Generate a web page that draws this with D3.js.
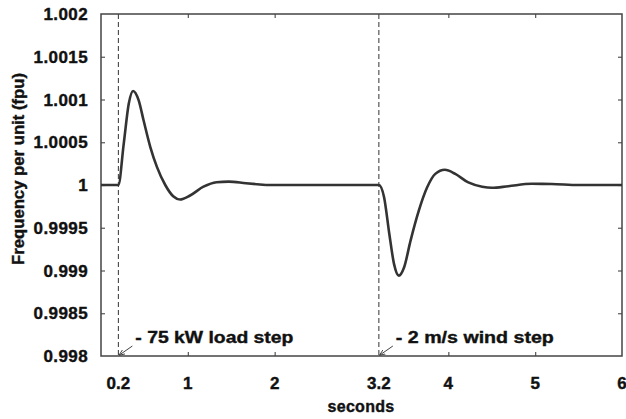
<!DOCTYPE html>
<html>
<head>
<meta charset="utf-8">
<script src="https://cdn.jsdelivr.net/npm/d3@7"></script>
<style>
  body { margin: 0; background: #fff; }
  text { font-family: "Liberation Sans", Arial, sans-serif; font-weight: bold; fill: #111; stroke: #111; stroke-width: 0.4px; }
</style>
</head>
<body>
<div id="chart"></div>
<script>
// Frequency response (time in seconds, frequency in per unit)
const loadStepTime = [0, 0.2, 0.262, 0.32, 0.37, 0.434, 0.49, 0.568, 0.645, 0.74, 0.835, 0.91, 1.026, 1.18, 1.33, 1.47, 1.67, 1.9];
const loadStepFreq = [1, 1, 1.000484, 1.000953, 1.0011, 1.00099, 1.000757, 1.000444, 1.000209, 1.0, 0.999865, 0.99983, 0.999877, 0.99998, 1.000033, 1.00004, 1.00002, 1.0];
const windStepTime = [1.9, 3.2, 3.26, 3.32, 3.375, 3.43, 3.49, 3.565, 3.66, 3.755, 3.85, 3.96, 4.08, 4.23, 4.39, 4.5, 4.69, 4.96, 5.19, 5.5, 6];
const windStepFreq = [1.0, 1, 0.999857, 0.99943, 0.999075, 0.99894, 0.999035, 0.99935, 0.9997, 0.99997, 1.00013, 1.000178, 1.00013, 1.00003, 0.99998, 0.999967, 0.999986, 1.000014, 1.000012, 1.0, 1.0];

const xTicks = [0.2, 1, 2, 3.2, 4, 5, 6];
const yTicks = [0.998, 0.9985, 0.999, 0.9995, 1, 1.0005, 1.001, 1.0015, 1.002];
const events = [
    { t: 0.2, label: "- 75 kW load step" },
    { t: 3.2, label: "- 2 m/s wind step" }
];

const width = 626, height = 419;
const margin = { top: 14, right: 4, bottom: 63, left: 101 };

const svg = d3.select('#chart').append('svg')
    .attr('width', width)
    .attr('height', height);

const x = d3.scaleLinear().domain([0, 6]).range([margin.left, width - margin.right]);
const y = d3.scaleLinear().domain([0.998, 1.002]).range([height - margin.bottom, margin.top]);

// Dashed event markers
svg.append('g')
    .selectAll('line')
    .data(events)
    .join('line')
    .attr('x1', d => x(d.t))
    .attr('x2', d => x(d.t))
    .attr('y1', y.range()[1])
    .attr('y2', y.range()[0])
    .attr('stroke', '#333')
    .attr('stroke-width', 1)
    .attr('stroke-dasharray', '5,3');

// Axes with inward ticks on all sides
const fmtY = d => d3.format('')(+d.toFixed(4));
const innerX = xTicks.filter(t => t !== 0.2 && t !== 3.2 && t !== 6);
svg.append('g')
    .attr('transform', `translate(0,${y.range()[0]})`)
    .call(d3.axisBottom(x).tickValues(innerX).tickSizeInner(-4).tickSizeOuter(0).tickFormat(''))
    .call(g => g.select('.domain').remove());
svg.append('g')
    .attr('transform', `translate(0,${y.range()[1]})`)
    .call(d3.axisTop(x).tickValues(innerX).tickSizeInner(-4).tickSizeOuter(0).tickFormat(''))
    .call(g => g.select('.domain').remove());
svg.append('g')
    .attr('transform', `translate(${x.range()[0]},0)`)
    .call(d3.axisLeft(y).tickValues(yTicks.slice(1, -1)).tickSizeInner(-4).tickSizeOuter(0).tickFormat(''))
    .call(g => g.select('.domain').remove());
svg.append('g')
    .attr('transform', `translate(${x.range()[1]},0)`)
    .call(d3.axisRight(y).tickValues(yTicks.slice(1, -1)).tickSizeInner(-4).tickSizeOuter(0).tickFormat(''))
    .call(g => g.select('.domain').remove());
svg.selectAll('.tick line').attr('stroke', '#555').attr('stroke-width', 1.2);

// Frame
svg.append('rect')
    .attr('x', x.range()[0])
    .attr('y', y.range()[1])
    .attr('width', x.range()[1] - x.range()[0])
    .attr('height', y.range()[0] - y.range()[1])
    .attr('fill', 'none')
    .attr('stroke', '#444')
    .attr('stroke-width', 1.5);

// Tick labels
svg.append('g')
    .selectAll('text')
    .data(yTicks)
    .join('text')
    .attr('x', 88)
    .attr('y', d => y(d))
    .attr('dy', '0.36em')
    .attr('text-anchor', 'end')
    .style('font-size', '17px')
    .style('letter-spacing', '0.4px')
    .text(fmtY);

svg.append('g')
    .selectAll('text')
    .data(xTicks)
    .join('text')
    .attr('x', d => x(d))
    .attr('y', 389)
    .attr('text-anchor', 'middle')
    .style('font-size', '17px')
    .text(d => d);

// Axis titles
svg.append('text')
    .attr('x', 361)
    .attr('y', 412)
    .attr('text-anchor', 'middle')
    .style('font-size', '16px')
    .style('letter-spacing', '0.3px')
    .text('seconds');

svg.append('text')
    .attr('transform', `translate(24,169) rotate(-90)`)
    .attr('text-anchor', 'middle')
    .attr('textLength', 192)
    .attr('lengthAdjust', 'spacingAndGlyphs')
    .style('font-size', '16px')
    .text('Frequency per unit (fpu)');

// Frequency curve
const line = d3.line()
    .x(d => x(d[0]))
    .y(d => y(d[1]))
    .curve(d3.curveMonotoneX);

const series = [
    d3.zip(loadStepTime, loadStepFreq),
    d3.zip(windStepTime, windStepFreq)
];
svg.append('g')
    .selectAll('path')
    .data(series)
    .join('path')
    .attr('d', line)
    .attr('fill', 'none')
    .attr('stroke', '#333')
    .attr('stroke-width', 2.6)
    .attr('stroke-linejoin', 'round');

// Event annotations with small arrows
svg.append('defs').append('marker')
    .attr('id', 'arrow')
    .attr('viewBox', '0 0 10 10')
    .attr('refX', 9)
    .attr('refY', 5)
    .attr('markerWidth', 6)
    .attr('markerHeight', 6)
    .attr('orient', 'auto')
    .append('path')
    .attr('d', 'M0,1 L10,5 L0,9')
    .attr('fill', 'none')
    .attr('stroke', '#444')
    .attr('stroke-width', 1.5);

const ann = svg.append('g')
    .selectAll('g')
    .data(events)
    .join('g');
ann.append('line')
    .attr('x1', d => x(d.t) + 14)
    .attr('y1', y.range()[0] - 10)
    .attr('x2', d => x(d.t) + 1)
    .attr('y2', y.range()[0] - 1)
    .attr('stroke', '#444')
    .attr('stroke-width', 1)
    .attr('marker-end', 'url(#arrow)');
ann.append('text')
    .attr('x', d => x(d.t) + 17)
    .attr('y', y.range()[0] - 13)
    .attr('textLength', 158)
    .attr('lengthAdjust', 'spacingAndGlyphs')
    .style('font-size', '17px')
    .text(d => d.label);
</script>
</body>
</html>
